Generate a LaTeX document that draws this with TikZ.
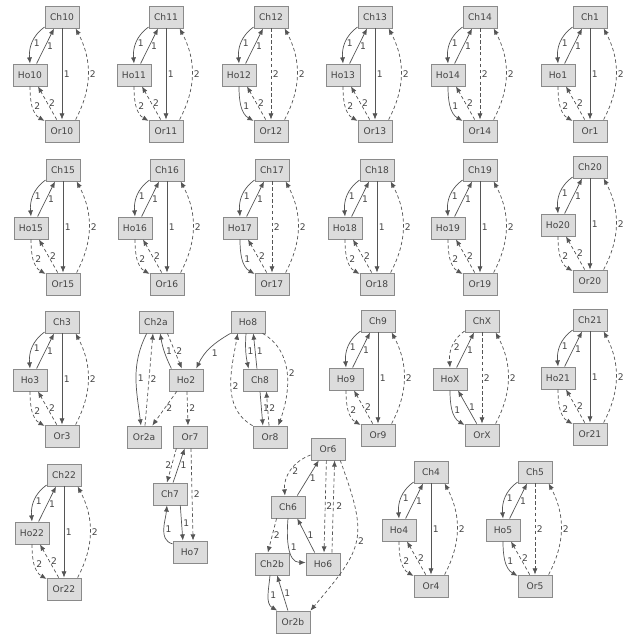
\documentclass[tikz,border=0pt]{standalone}
\usepackage{fontspec}
\setmainfont{DejaVu Sans}
\usetikzlibrary{arrows.meta}
\definecolor{boxfill}{HTML}{DCDCDC}
\definecolor{boxline}{HTML}{8A8A8A}
\definecolor{linkgray}{HTML}{555555}
\definecolor{txtgray}{HTML}{444444}
\tikzset{
  ind/.style={draw=boxline, fill=boxfill, line width=0.6pt, minimum width=0.85cm,
              minimum height=0.55cm, inner sep=0pt, text=txtgray,
              font=\fontsize{6.5}{7}\selectfont},
  lnk/.style={draw=linkgray, line width=0.5pt, -{Latex[length=4.4pt,width=3.6pt]}},
  e1/.style={lnk},
  e2/.style={lnk, dash pattern=on 2.4pt off 1.8pt},
  lbl/.style={text=txtgray, font=\fontsize{6.5}{7}\selectfont, inner sep=1pt},
}
% one child / holder / origin trio
\newcommand{\pedtrio}[7]{%
  \node[ind] (Ch#1) at (#2,-#3) {Ch#1};
  \node[ind] (Ho#1) at (#2-32,-#3-58) {Ho#1};
  \node[ind] (Or#1) at (#2,-#3-114) {Or#1};
  \draw[e#4] (Ch#1.210) to[out=215,in=95] node[lbl,right]{#4} (Ho#1.north);
  \draw[e1] (Ho#1.60) -- node[lbl,right]{1} (Ch#1.235);
  \draw[e#5] (Ch#1.south) -- node[lbl,right]{#5} (Or#1.north);
  \draw[e2] (Or#1.40) to[out=62,in=-62] node[lbl,right]{2} (Ch#1.-40);
  \draw[e#6] (Ho#1.south) to[out=-90,in=150] node[lbl,right]{#6} (Or#1.150);
  \draw[e#7] (Or#1.115) -- node[lbl,right]{#7} (Ho#1.-55);
}

\begin{document}
\begin{tikzpicture}[x=0.025cm, y=0.025cm]
  \useasboundingbox (0,0) rectangle (624,-636);

  % regular trios
  \pedtrio{10}{62}{17}{1}{1}{2}{2}
  \pedtrio{11}{166}{17}{1}{1}{2}{2}
  \pedtrio{12}{271}{17}{1}{2}{1}{2}
  \pedtrio{13}{375}{17}{1}{1}{2}{2}
  \pedtrio{14}{480}{17}{1}{2}{1}{2}
  \pedtrio{1}{590}{17}{1}{1}{2}{2}
  \pedtrio{15}{63}{170}{1}{1}{2}{2}
  \pedtrio{16}{167}{170}{1}{1}{2}{2}
  \pedtrio{17}{272}{170}{1}{2}{1}{2}
  \pedtrio{18}{377}{170}{1}{1}{2}{2}
  \pedtrio{19}{480}{170}{1}{1}{2}{2}
  \pedtrio{20}{590}{167}{1}{1}{2}{2}
  \pedtrio{3}{62}{322}{1}{1}{2}{2}
  \pedtrio{9}{378}{321}{1}{1}{2}{2}
  \pedtrio{X}{482}{321}{2}{2}{1}{1}
  \pedtrio{21}{590}{320}{1}{1}{2}{2}
  \pedtrio{22}{64}{475}{1}{1}{2}{2}
  \pedtrio{4}{431}{472}{1}{1}{2}{2}
  \pedtrio{5}{535}{472}{1}{2}{1}{2}

  % Ch2a / Ho2 / Ho8 block
  \node[ind] (Ch2a) at (156,-322) {Ch2a};
  \node[ind] (Ho2) at (186,-380) {Ho2};
  \node[ind] (Or2a) at (144,-437) {Or2a};
  \node[ind] (Or7) at (190,-437) {Or7};
  \node[ind] (Ho8) at (248,-322) {Ho8};
  \node[ind] (Ch8) at (260,-380) {Ch8};
  \node[ind] (Or8) at (270,-437) {Or8};
  \node[ind] (Ch7) at (170,-494) {Ch7};
  \node[ind] (Ho7) at (190,-552) {Ho7};

  \draw[e1] (Ch2a.231) to[out=243,in=97] node[lbl,right]{1} (Or2a.105);
  \draw[e2] (Or2a.85) -- node[lbl,right]{2} (Ch2a.255);
  \draw[e1] (Ho2.142) to[bend left=8] node[lbl,right]{1} (Ch2a.290);
  \draw[e2] (Ch2a.315) -- node[lbl,right]{2} (Ho2.110);
  \draw[e1] (Ho8.213) to[out=210,in=65] node[lbl,below right]{1} (Ho2.48);
  \draw[e2] (Ho2.231) -- node[lbl,right]{2} (Or2a.54);
  \draw[e2] (Ho2.275) -- node[lbl,right]{2} (Or7.100);
  \draw[e1] (Ho8.260) to[bend right=8] node[lbl,right]{1} (Ch8.135);
  \draw[e1] (Ch8.105) -- node[lbl,right]{1} (Ho8.295);
  \draw[e2] (Ho8.322) to[out=-30,in=70] node[lbl,right]{2} (Or8.54);
  \draw[e2] (Or8.147) to[out=150,in=-100] node[lbl,right]{2} (Ho8.228);
  \draw[e1] (Ch8.south) -- node[lbl,right]{1} (Or8.122);
  \draw[e2] (Or8.95) -- node[lbl,right]{2} (Ch8.299);

  \draw[e2] (Or7.220) -- node[lbl,left,inner sep=0pt]{2} (Ch7.105);
  \draw[e1] (Ch7.75) -- node[lbl,right]{1} (Or7.245);
  \draw[e2] (Or7.275) -- node[lbl,right]{2} (Ho7.75);
  \draw[e1] (Ho7.155) to[out=165,in=-95] node[lbl,right]{1} (Ch7.255);
  \draw[e1] (Ch7.312) -- node[lbl,right]{1} (Ho7.122);

  % Or6 block
  \node[ind] (Or6) at (328,-449) {Or6};
  \node[ind] (Ch6) at (288,-507) {Ch6};
  \node[ind] (Ch2b) at (272,-564) {Ch2b};
  \node[ind] (Ho6) at (323,-564) {Ho6};
  \node[ind] (Or2b) at (293,-622) {Or2b};

  \draw[e2] (Or6.199) to[out=200,in=95] node[lbl,right]{2} (Ch6.105);
  \draw[e1] (Ch6.51) -- node[lbl,right]{1} (Or6.231);
  \draw[e2] (Or6.262) -- node[lbl,right,inner sep=0.5pt]{2} (Ho6.85);
  \draw[e2] (Ho6.52) -- node[lbl,right,inner sep=2pt]{2} (Or6.300);
  \draw[e2] (Or6.317) to[out=-70,in=50,looseness=1.4] node[lbl,right]{2} (Or2b.33);
  \draw[e1] (Ch6.south) to[out=-95,in=180] node[lbl,right]{1} (Ho6.175);
  \draw[e1] (Ho6.126) -- node[lbl,right]{1} (Ch6.309);
  \draw[e2] (Ch6.225) -- node[lbl,right]{2} (Ch2b.110);
  \draw[e1] (Ch2b.260) to[out=-95,in=150] node[lbl,right]{1} (Or2b.144);
  \draw[e1] (Or2b.114) -- node[lbl,right]{1} (Ch2b.294);
\end{tikzpicture}
\end{document}
